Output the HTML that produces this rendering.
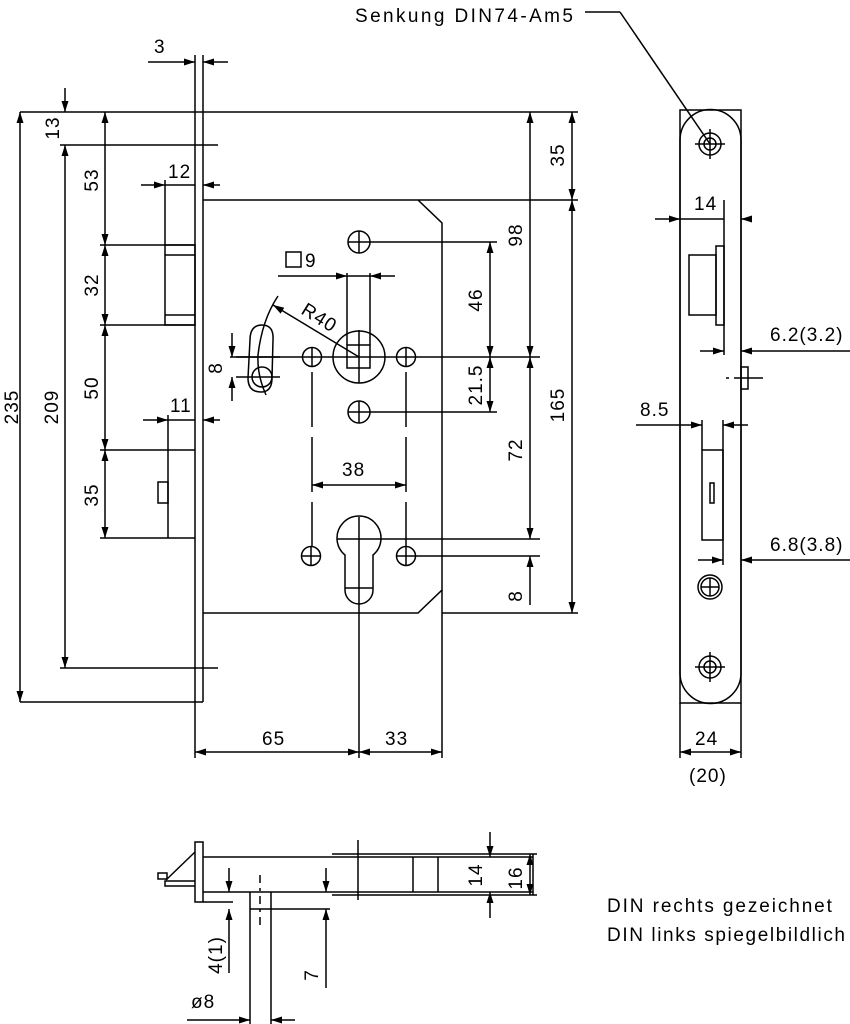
<!DOCTYPE html>
<html><head><meta charset="utf-8"><style>
html,body{margin:0;padding:0;background:#fff;}
svg{display:block}
text{font-family:"Liberation Sans",sans-serif;font-size:19px;letter-spacing:1px;fill:#000;}
</style></head><body>
<svg width="850" height="1024" viewBox="0 0 850 1024" xmlns="http://www.w3.org/2000/svg">
<defs>
<marker id="a" markerUnits="userSpaceOnUse" markerWidth="11" markerHeight="7" refX="11" refY="3.5" orient="auto-start-reverse"><path d="M0,0 L11,3.5 L0,7 z" fill="#000"/></marker>
</defs>
<g stroke="#000" stroke-width="1.5" fill="none">
<line x1="195" y1="55" x2="195" y2="758"/>
<line x1="203" y1="55" x2="203" y2="702"/>
<line x1="20" y1="112" x2="578" y2="112"/>
<line x1="60" y1="145" x2="218" y2="145"/>
<line x1="60" y1="668" x2="218" y2="668"/>
<line x1="20" y1="702" x2="203" y2="702"/>
<polyline points="203,200 418,200 442,223 442,590 418,613 203,613"/>
<line x1="418" y1="200" x2="578" y2="200"/>
<line x1="442" y1="613" x2="578" y2="613"/>
<line x1="442" y1="590" x2="442" y2="758"/>
<rect x="165" y="245" width="30" height="80"/>
<line x1="165" y1="255" x2="195" y2="255"/>
<line x1="165" y1="315" x2="195" y2="315"/>
<line x1="100" y1="245" x2="195" y2="245"/>
<line x1="100" y1="325" x2="195" y2="325"/>
<line x1="165" y1="180" x2="165" y2="245"/>
<line x1="100" y1="450" x2="195" y2="450"/>
<line x1="100" y1="538" x2="195" y2="538"/>
<line x1="168" y1="415" x2="168" y2="538"/>
<rect x="158" y="482" width="10" height="21"/>
<line x1="20" y1="112" x2="20" y2="702" marker-start="url(#a)" marker-end="url(#a)"/>
<line x1="65" y1="88" x2="65" y2="112" marker-end="url(#a)"/>
<line x1="65" y1="145" x2="65" y2="668" marker-start="url(#a)" marker-end="url(#a)"/>
<line x1="105" y1="112" x2="105" y2="245" marker-start="url(#a)" marker-end="url(#a)"/>
<line x1="105" y1="245" x2="105" y2="325" marker-start="url(#a)" marker-end="url(#a)"/>
<line x1="105" y1="325" x2="105" y2="450" marker-start="url(#a)" marker-end="url(#a)"/>
<line x1="105" y1="450" x2="105" y2="538" marker-start="url(#a)" marker-end="url(#a)"/>
<line x1="148" y1="62" x2="195" y2="62" marker-end="url(#a)"/>
<line x1="228" y1="62" x2="203" y2="62" marker-end="url(#a)"/>
<line x1="141" y1="185" x2="165" y2="185" marker-end="url(#a)"/>
<line x1="165" y1="185" x2="195" y2="185"/>
<line x1="220" y1="185" x2="203" y2="185" marker-end="url(#a)"/>
<line x1="143" y1="420" x2="168" y2="420" marker-end="url(#a)"/>
<line x1="168" y1="420" x2="195" y2="420"/>
<line x1="220" y1="420" x2="203" y2="420" marker-end="url(#a)"/>
<circle cx="359" cy="242" r="11"/><line x1="348" y1="242" x2="497" y2="242"/><line x1="359" y1="231" x2="359" y2="253"/>
<circle cx="359" cy="412" r="11"/><line x1="348" y1="412" x2="497" y2="412"/><line x1="359" y1="401" x2="359" y2="423"/>
<circle cx="312" cy="357" r="9.5"/><circle cx="406" cy="357" r="9.5"/>
<line x1="230" y1="357" x2="540" y2="357"/>
<line x1="312" y1="347" x2="312" y2="367"/><line x1="406" y1="347" x2="406" y2="367"/>
<circle cx="311" cy="556" r="9.5"/><line x1="301" y1="556" x2="321" y2="556"/><line x1="311" y1="546" x2="311" y2="566"/>
<circle cx="406" cy="556" r="9.5"/><line x1="396" y1="556" x2="540" y2="556"/><line x1="406" y1="546" x2="406" y2="566"/>
<line x1="312" y1="372" x2="312" y2="546" stroke-dasharray="55,10"/>
<line x1="406" y1="372" x2="406" y2="546" stroke-dasharray="55,10"/>
<circle cx="359" cy="357" r="26"/>
<rect x="347" y="345" width="23" height="23"/>
<line x1="347" y1="273" x2="347" y2="345"/><line x1="370" y1="273" x2="370" y2="345"/>
<line x1="359" y1="330" x2="359" y2="383"/>
<line x1="278" y1="276" x2="347" y2="276" marker-end="url(#a)"/>
<line x1="347" y1="276" x2="370" y2="276"/>
<line x1="395" y1="276" x2="370" y2="276" marker-end="url(#a)"/>
<rect x="286" y="252" width="15" height="15"/>
<path d="M250,340 Q250,325 262,325 Q274,325 273,340 L272,378 Q272,392 261,392 Q248,392 248,378 Z"/>
<circle cx="262" cy="377" r="10"/>
<path d="M278,296 Q262,320 258,355 Q257,375 266,395"/>
<line x1="236" y1="357" x2="280" y2="357"/><line x1="236" y1="377" x2="280" y2="377"/>
<line x1="232" y1="333" x2="232" y2="357" marker-end="url(#a)"/>
<line x1="232" y1="401" x2="232" y2="377" marker-end="url(#a)"/>
<line x1="359" y1="357" x2="273" y2="305" marker-end="url(#a)"/>
<path d="M345,555 A22,22 0 1 1 373,555 L373,590 A14,14 0 0 1 345,590 Z"/>
<line x1="337" y1="539" x2="540" y2="539"/>
<line x1="345" y1="588" x2="373" y2="588"/>
<line x1="359" y1="517" x2="359" y2="758"/>
<line x1="312" y1="485" x2="406" y2="485" marker-start="url(#a)" marker-end="url(#a)"/>
<line x1="195" y1="752" x2="359" y2="752" marker-start="url(#a)" marker-end="url(#a)"/>
<line x1="359" y1="752" x2="442" y2="752" marker-start="url(#a)" marker-end="url(#a)"/>
<line x1="572" y1="112" x2="572" y2="200" marker-start="url(#a)" marker-end="url(#a)"/>
<line x1="572" y1="200" x2="572" y2="613" marker-start="url(#a)" marker-end="url(#a)"/>
<line x1="530" y1="112" x2="530" y2="357" marker-start="url(#a)" marker-end="url(#a)"/>
<line x1="530" y1="357" x2="530" y2="539" marker-start="url(#a)" marker-end="url(#a)"/>
<line x1="530" y1="605" x2="530" y2="556" marker-end="url(#a)"/>
<line x1="490" y1="242" x2="490" y2="357" marker-start="url(#a)" marker-end="url(#a)"/>
<line x1="490" y1="357" x2="490" y2="412" marker-start="url(#a)" marker-end="url(#a)"/>
<rect x="680" y="110" width="61" height="593"/>
<path d="M680,140 A30,30 0 0 1 741,140 L741,673 A30,30 0 0 1 680,673 Z"/>
<circle cx="710" cy="144" r="11"/><circle cx="710" cy="144" r="6"/><line x1="695" y1="144" x2="725" y2="144"/><line x1="710" y1="129" x2="710" y2="159"/>
<circle cx="710" cy="587" r="12"/><circle cx="710" cy="587" r="9"/><line x1="701" y1="587" x2="719" y2="587"/><line x1="710" y1="578" x2="710" y2="596"/>
<circle cx="710" cy="667" r="11"/><circle cx="710" cy="667" r="6"/><line x1="695" y1="667" x2="725" y2="667"/><line x1="710" y1="652" x2="710" y2="682"/>
<line x1="585" y1="12" x2="620" y2="12"/><line x1="620" y1="12" x2="710" y2="144"/>
<rect x="689" y="255" width="27" height="60"/>
<rect x="716" y="246" width="8" height="79"/>
<line x1="724" y1="200" x2="724" y2="355"/>
<line x1="655" y1="219" x2="680" y2="219" marker-end="url(#a)"/>
<line x1="680" y1="219" x2="724" y2="219"/>
<line x1="750" y1="219" x2="741" y2="219" marker-end="url(#a)"/>
<line x1="700" y1="351" x2="724" y2="351" marker-end="url(#a)"/>
<line x1="850" y1="351" x2="741" y2="351" marker-end="url(#a)"/>
<rect x="741" y="367" width="7" height="22"/>
<line x1="734" y1="378" x2="763" y2="378"/><line x1="726" y1="378" x2="729" y2="378"/>
<rect x="702" y="450" width="21" height="90"/>
<line x1="702" y1="420" x2="702" y2="450"/><line x1="723" y1="420" x2="723" y2="565"/>
<rect x="710" y="483" width="4" height="20"/>
<line x1="636" y1="425" x2="702" y2="425" marker-end="url(#a)"/>
<line x1="748" y1="425" x2="723" y2="425" marker-end="url(#a)"/>
<line x1="698" y1="560" x2="723" y2="560" marker-end="url(#a)"/>
<line x1="850" y1="560" x2="741" y2="560" marker-end="url(#a)"/>
<line x1="680" y1="703" x2="680" y2="758"/><line x1="741" y1="703" x2="741" y2="758"/>
<line x1="680" y1="752" x2="741" y2="752" marker-start="url(#a)" marker-end="url(#a)"/>
<rect x="195" y="842" width="8" height="60"/>
<line x1="203" y1="857" x2="533" y2="857"/>
<line x1="203" y1="892" x2="533" y2="892"/>
<line x1="332" y1="854" x2="490" y2="854"/>
<line x1="332" y1="895" x2="490" y2="895"/>
<line x1="358" y1="840" x2="358" y2="900"/>
<line x1="413" y1="857" x2="413" y2="892"/>
<line x1="438" y1="857" x2="438" y2="892"/>
<line x1="195" y1="852" x2="166" y2="880"/>
<polyline points="195,881 165,881 165,886 195,886"/>
<rect x="158" y="873" width="9" height="6"/>
<line x1="250" y1="892" x2="250" y2="1024"/><line x1="271" y1="892" x2="271" y2="1024"/>
<line x1="260" y1="875" x2="260" y2="928" stroke-dasharray="8,5,3,5"/>
<line x1="250" y1="909" x2="330" y2="909"/>
<line x1="229" y1="868" x2="229" y2="892" marker-end="url(#a)"/>
<line x1="229" y1="973" x2="229" y2="909" marker-end="url(#a)"/>
<line x1="203" y1="902" x2="233" y2="902"/>
<line x1="326" y1="868" x2="326" y2="892" marker-end="url(#a)"/>
<line x1="326" y1="988" x2="326" y2="909" marker-end="url(#a)"/>
<line x1="187" y1="1020" x2="250" y2="1020" marker-end="url(#a)"/>
<line x1="295" y1="1020" x2="271" y2="1020" marker-end="url(#a)"/>
<line x1="490" y1="832" x2="490" y2="857" marker-end="url(#a)"/>
<line x1="490" y1="918" x2="490" y2="892" marker-end="url(#a)"/>
<line x1="533" y1="854" x2="533" y2="895"/>
<line x1="490" y1="854" x2="537" y2="854"/><line x1="490" y1="895" x2="537" y2="895"/>
<line x1="530" y1="854" x2="530" y2="895" marker-start="url(#a)" marker-end="url(#a)"/>
</g>
<g>
<text x="355" y="22" style="letter-spacing:2.4px">Senkung DIN74-Am5</text>
<text x="154" y="53">3</text>
<text x="168" y="178">12</text>
<text x="170" y="412">11</text>
<text x="305" y="267">9</text>
<text x="342" y="476">38</text>
<text x="262" y="745">65</text>
<text x="385" y="745">33</text>
<text x="694" y="210">14</text>
<text x="770" y="341">6.2(3.2)</text>
<text x="640" y="416">8.5</text>
<text x="770" y="551">6.8(3.8)</text>
<text x="695" y="745">24</text>
<text x="689" y="782">(20)</text>
<text x="191" y="1008">ø8</text>
<text x="607" y="912" style="letter-spacing:1.9px">DIN rechts gezeichnet</text>
<text x="607" y="941" style="letter-spacing:1.6px">DIN links spiegelbildlich</text>
<text transform="translate(300,313) rotate(32)">R40</text>
<g text-anchor="middle">
<text transform="translate(59,128) rotate(-90)">13</text>
<text transform="translate(98,180) rotate(-90)">53</text>
<text transform="translate(98,285) rotate(-90)">32</text>
<text transform="translate(98,388) rotate(-90)">50</text>
<text transform="translate(98,495) rotate(-90)">35</text>
<text transform="translate(18,407) rotate(-90)">235</text>
<text transform="translate(58,407) rotate(-90)">209</text>
<text transform="translate(222,368) rotate(-90)">8</text>
<text transform="translate(522,235) rotate(-90)">98</text>
<text transform="translate(482,300) rotate(-90)">46</text>
<text transform="translate(482,385) rotate(-90)">21.5</text>
<text transform="translate(522,450) rotate(-90)">72</text>
<text transform="translate(522,596) rotate(-90)">8</text>
<text transform="translate(564,405) rotate(-90)">165</text>
<text transform="translate(564,155) rotate(-90)">35</text>
<text transform="translate(482,875) rotate(-90)">14</text>
<text transform="translate(522,878) rotate(-90)">16</text>
<text transform="translate(222,955) rotate(-90)">4(1)</text>
<text transform="translate(318,975) rotate(-90)">7</text>
</g>
</g>
</svg>
</body></html>
